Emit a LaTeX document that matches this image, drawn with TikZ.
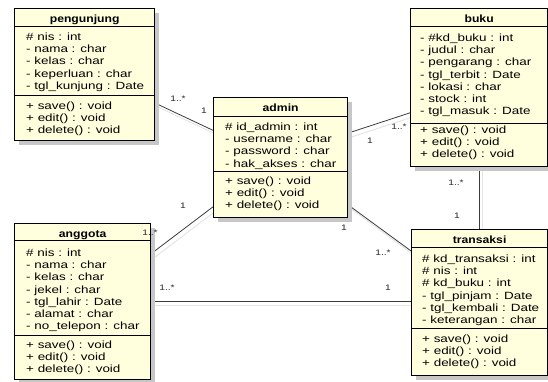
\documentclass[tikz,border=0pt]{standalone}
\usepackage{fontspec}
\setmainfont{Liberation Sans}
\newfontfamily\umlfont[FakeStretch=1.28]{Liberation Sans}
\newfontfamily\umltitlefont[FakeStretch=1.16]{Liberation Sans}
\usetikzlibrary{shadows,backgrounds}
\definecolor{classfill}{RGB}{255,255,222}
\definecolor{linkgray}{RGB}{60,60,60}

\begin{document}
\begin{tikzpicture}[x=1pt, y=-1pt,
    classbox/.style={draw, line width=1.3pt, fill=classfill, inner sep=0pt, anchor=north west,
        drop shadow={shadow xshift=4pt, shadow yshift=-4pt, fill=black!22, opacity=1}},
    classname/.style={font=\umltitlefont\bfseries\fontsize{10.5}{12}\selectfont, anchor=base, inner sep=0pt},
    member/.style={font=\umlfont\fontsize{10.5}{12.1}\selectfont, align=left, anchor=base west, inner sep=0pt},
    mult/.style={font=\umlfont\fontsize{8}{9}\selectfont, inner sep=0pt, text=black!85},
    sepline/.style={line width=0.7pt},
    link/.style={draw=linkgray, line width=0.8pt,
        preaction={draw=black!10, line width=1pt, transform canvas={shift={(3pt,-4pt)}}}}]
    \useasboundingbox (0,0) rectangle (548,381);

    % class boxes
    \node[classbox, minimum width=140pt, minimum height=132pt] (pengunjung) at (14,8) {};
    \node[classbox, minimum width=134pt, minimum height=120pt] (admin) at (213,97) {};
    \node[classbox, minimum width=137pt, minimum height=158pt] (buku) at (410,8) {};
    \node[classbox, minimum width=136pt, minimum height=156pt] (anggota) at (14,223) {};
    \node[classbox, minimum width=136pt, minimum height=146pt] (transaksi) at (411,229) {};

    % compartments
    \draw[sepline] ([yshift=-18pt]pengunjung.north west) -- ([yshift=-18pt]pengunjung.north east);
    \draw[sepline] ([yshift=-87pt]pengunjung.north west) -- ([yshift=-87pt]pengunjung.north east);
    \draw[sepline] ([yshift=-19pt]admin.north west) -- ([yshift=-19pt]admin.north east);
    \draw[sepline] ([yshift=-74pt]admin.north west) -- ([yshift=-74pt]admin.north east);
    \draw[sepline] ([yshift=-18pt]buku.north west) -- ([yshift=-18pt]buku.north east);
    \draw[sepline] ([yshift=-115pt]buku.north west) -- ([yshift=-115pt]buku.north east);
    \draw[sepline] ([yshift=-17pt]anggota.north west) -- ([yshift=-17pt]anggota.north east);
    \draw[sepline] ([yshift=-112pt]anggota.north west) -- ([yshift=-112pt]anggota.north east);
    \draw[sepline] ([yshift=-18pt]transaksi.north west) -- ([yshift=-18pt]transaksi.north east);
    \draw[sepline] ([yshift=-99pt]transaksi.north west) -- ([yshift=-99pt]transaksi.north east);

    % pengunjung (member nodes sit on the baseline of their last line)
    \node[classname] (pengunjung-name) at ([yshift=-14.5pt]pengunjung.north) {pengunjung};
    \node[member] (pengunjung-attr) at (26,89.1) {\# nis : int\\- nama : char\\- kelas : char\\- keperluan : char\\- tgl\_kunjung : Date};
    \node[member] (pengunjung-op) at (26,133.9) {+ save() : void\\+ edit() : void\\+ delete() : void};

    % admin
    \node[classname] (admin-name) at ([yshift=-14.5pt]admin.north) {admin};
    \node[member] (admin-attr) at (225,167) {\# id\_admin : int\\- username : char\\- password : char\\- hak\_akses : char};
    \node[member] (admin-op) at (225,208.9) {+ save() : void\\+ edit() : void\\+ delete() : void};

    % buku
    \node[classname] (buku-name) at ([yshift=-14.5pt]buku.north) {buku};
    \node[member] (buku-attr) at (420,114.3) {- \#kd\_buku : int\\- judul : char\\- pengarang : char\\- tgl\_terbit : Date\\- lokasi : char\\- stock : int\\- tgl\_masuk : Date};
    \node[member] (buku-op) at (420,157.9) {+ save() : void\\+ edit() : void\\+ delete() : void};

    % anggota
    \node[classname] (anggota-name) at ([yshift=-14pt]anggota.north) {anggota};
    \node[member] (anggota-attr) at (26,329.3) {\# nis : int\\- nama : char\\- kelas : char\\- jekel : char\\- tgl\_lahir : Date\\- alamat : char\\- no\_telepon : char};
    \node[member] (anggota-op) at (26,372.9) {+ save() : void\\+ edit() : void\\+ delete() : void};

    % transaksi
    \node[classname] (transaksi-name) at ([yshift=-14.5pt]transaksi.north) {transaksi};
    \node[member] (transaksi-attr) at (422,323.2) {\# kd\_transaksi : int\\\# nis : int\\\# kd\_buku : int\\- tgl\_pinjam : Date\\- tgl\_kembali : Date\\- keterangan : char};
    \node[member] (transaksi-op) at (422,366.9) {+ save() : void\\+ edit() : void\\+ delete() : void};

    % associations
    \begin{scope}[on background layer]
        \path[link] (pengunjung.-22.5) -- (admin.158);
        \path[link] (admin.20.5) -- (buku.200.3);
        \path[link] (buku.south) -- (buku.south |- transaksi.north);
        \path[link] (admin.216.7) -- (anggota.35.8);
        \path[link] (admin.-35.6) -- (transaksi.143.7);
        \path[link] (anggota.east) -- (anggota.east -| transaksi.west);
    \end{scope}

    % multiplicities
    \node[mult] (m-peng) at (178,99) {1..*};
    \node[mult] (m-admin-peng) at (204,111) {1};
    \node[mult] (m-admin-buku) at (370,141) {1};
    \node[mult] (m-buku-admin) at (399,127) {1..*};
    \node[mult] (m-buku-trans) at (456,183) {1..*};
    \node[mult] (m-trans-buku) at (457,216) {1};
    \node[mult] (m-admin-angg) at (183,206) {1};
    \node[mult] (m-angg-admin) at (150,233) {1..*};
    \node[mult] (m-admin-trans) at (344,228) {1};
    \node[mult] (m-trans-admin) at (383,253) {1..*};
    \node[mult] (m-angg-trans) at (167,288) {1..*};
    \node[mult] (m-trans-angg) at (388,288) {1};
\end{tikzpicture}
\end{document}
